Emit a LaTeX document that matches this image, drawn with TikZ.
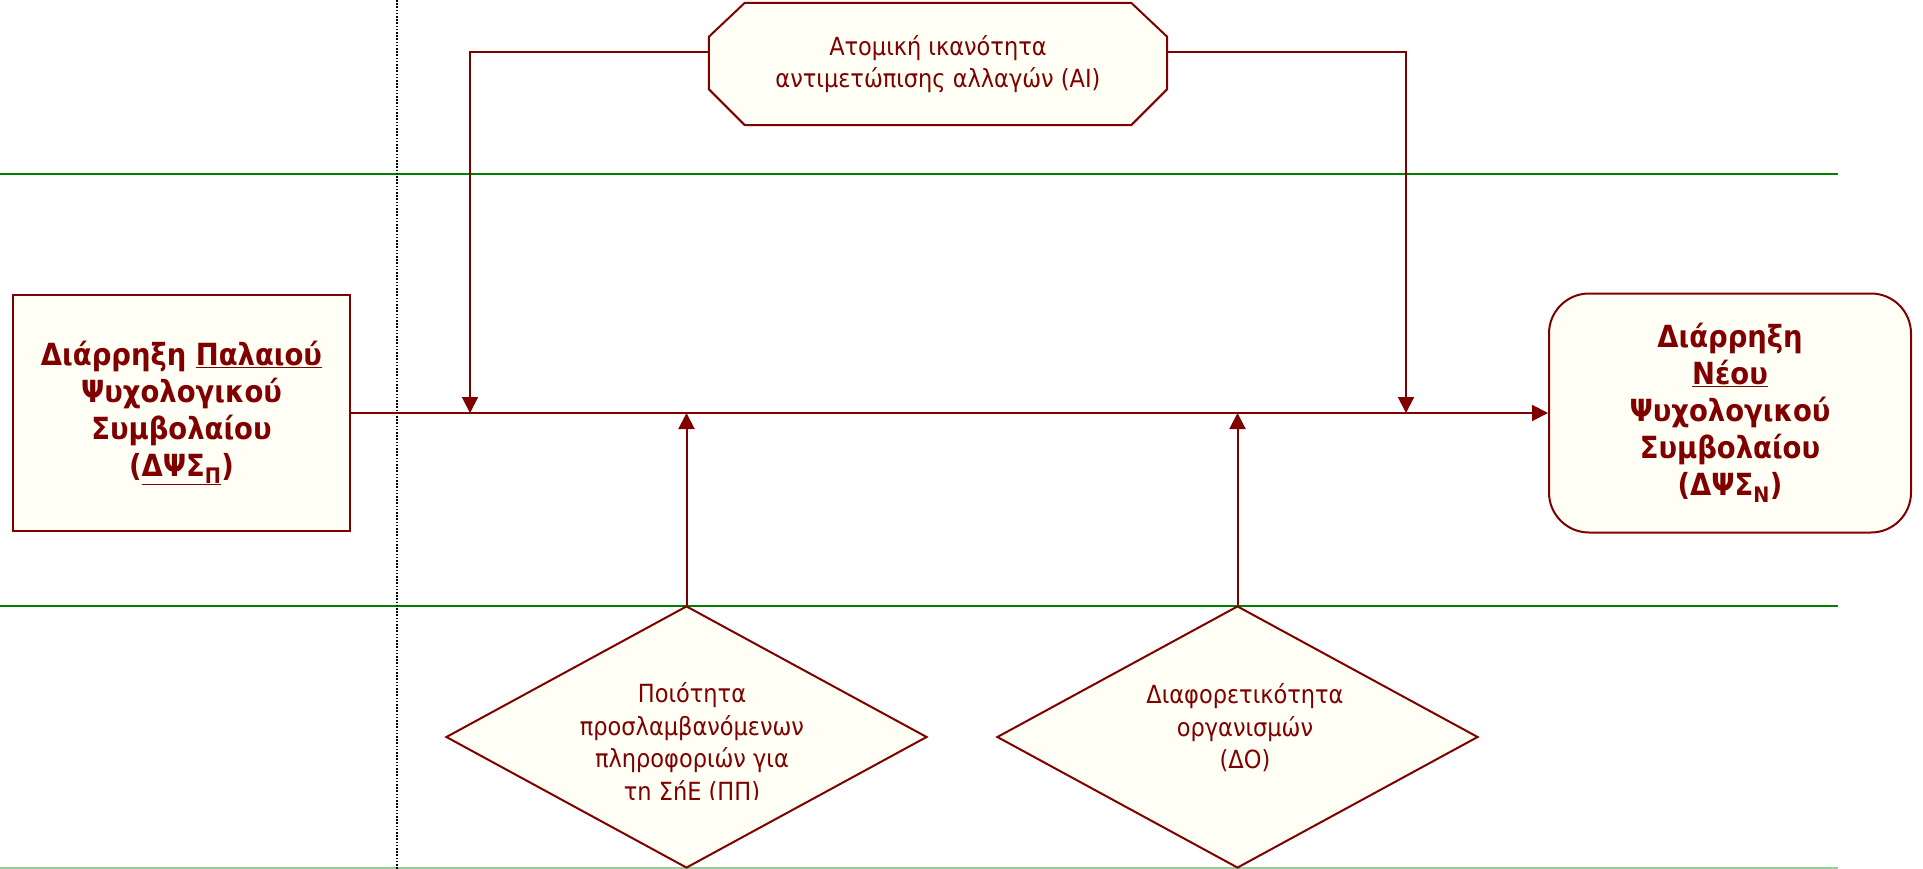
\documentclass[tikz,border=0pt]{standalone}
\usepackage{fontspec}
\setmainfont{DejaVu Sans Condensed}
\usetikzlibrary{arrows.meta,shapes.geometric}
\definecolor{maroon}{HTML}{800000}
\definecolor{cream}{HTML}{FFFFF5}
\definecolor{lanegreen}{HTML}{008000}
\begin{document}
\begin{tikzpicture}[x=1pt,y=-1pt,
  box/.style={draw=maroon,line width=2pt,fill=cream,text=maroon,inner sep=0pt},
  outline/.style={draw=maroon,line width=2pt,fill=cream},
  boldtext/.style={text=maroon,align=center,font=\bfseries\fontsize{30.5}{37}\selectfont},
  plaintext/.style={text=maroon,align=center,font=\fontsize{25}{32.5}\selectfont},
  arr/.style={draw=maroon,line width=2pt,-{Triangle[length=16pt,width=16pt]}},
  lane/.style={draw=lanegreen,line width=2pt},
  divider/.style={draw=black,line width=1.3pt,dash pattern=on 1.6pt off 1.6pt}]
\useasboundingbox (0,0) rectangle (1923,869);

% swimlane separators
\draw[lane] (0,174) -- (1838,174);
\draw[lane] (0,606) -- (1838,606);
\draw[lane,draw opacity=0.4] (0,868) -- (1838,868);
\draw[divider] (397,0) -- (397,869);

% main boxes
\node[box,minimum width=337pt,minimum height=236pt] (old) at (181.5,413) {};
\node[boldtext] (oldtxt) at (old.center)
  {Διάρρηξη \underline{Παλαιού}\\Ψυχολογικού\\Συμβολαίου\\(\underline{ΔΨΣ\textsubscript{Π}})};
\node[box,rounded corners=40pt,minimum width=362pt,minimum height=239pt] (new) at (1730,413) {};
\node[boldtext] (newtxt) at (new.center)
  {Διάρρηξη\\\underline{Νέου}\\Ψυχολογικού\\Συμβολαίου\\(ΔΨΣ\textsubscript{Ν})};

% individual capacity: octagon drawn around a plain node
\node[minimum width=458pt,minimum height=122pt,inner sep=0pt] (ai) at (938,64) {};
\draw[outline] ([xshift=36pt]ai.north west) -- ([xshift=-36pt]ai.north east)
  -- ([yshift=-34pt]ai.north east) -- ([yshift=36pt]ai.south east)
  -- ([xshift=-36pt]ai.south east) -- ([xshift=36pt]ai.south west)
  -- ([yshift=36pt]ai.south west) -- ([yshift=-34pt]ai.north west) -- cycle;
\node[plaintext] (aitxt) at (938,64) {Ατομική ικανότητα\\αντιμετώπισης αλλαγών (ΑΙ)};

% decision diamonds
\node[box,diamond,minimum width=481pt,minimum height=262pt] (pp) at (686.5,737) {};
\begin{scope}
  \clip (560,670) rectangle (802,799.5);
  \node[plaintext] (pptxt) at (692,744) {Ποιότητα\\προσλαμβανόμενων\\πληροφοριών για\\τη ΣήΕ (ΠΠ)};
\end{scope}
\node[box,diamond,minimum width=481pt,minimum height=262pt] (do) at (1237.5,737) {};
\node[plaintext] (dotxt) at (1245,728) {Διαφορετικότητα\\οργανισμών\\(ΔΟ)};

% junction points on the main flow
\coordinate (jai1) at (470,413);
\coordinate (jai2) at (1406,413);
\coordinate (jpp) at (686.5,413);
\coordinate (jdo) at (1237.5,413);

% connectors
\draw[arr] (old.east) -- (new.west);
\draw[arr] ([yshift=12pt]ai.west) -| (jai1);
\draw[arr] ([yshift=12pt]ai.east) -| (jai2);
\draw[arr] (pp.north) -- (jpp);
\draw[arr] (do.north) -- (jdo);
\end{tikzpicture}
\end{document}
